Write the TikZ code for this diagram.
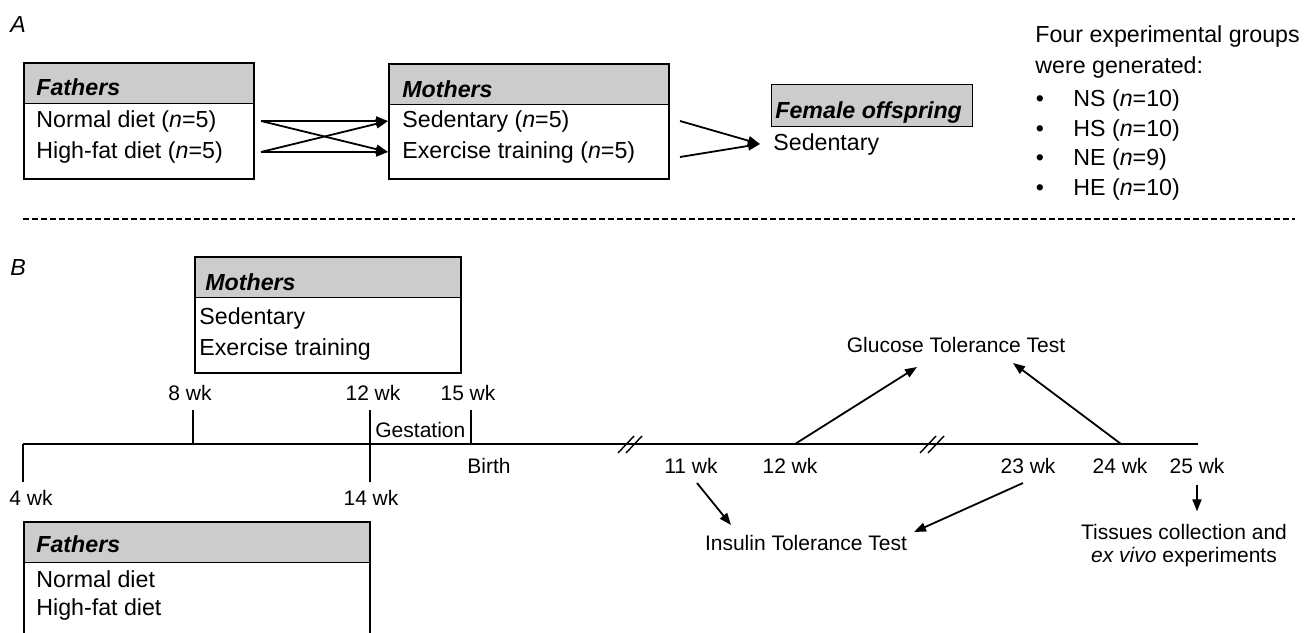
\documentclass[tikz,border=0pt]{standalone}
\usepackage{fontspec}
\setmainfont{Liberation Sans}
\usetikzlibrary{arrows.meta}

\newcommand{\bigtxt}{\fontsize{11.6}{13}\selectfont}
\newcommand{\smtxt}{\fontsize{10.5}{12}\selectfont}

\begin{document}
\begin{tikzpicture}[x=0.5pt,y=-0.5pt]
\tikzstyle{every node}+=[inner sep=0pt, font=\bigtxt]
\tikzstyle{bx}=[draw, line width=1pt, anchor=north west]
\tikzstyle{hd}=[draw, line width=0.6pt, fill=black!20, anchor=north west, minimum height=20.5pt]
\tikzstyle{arr}=[line width=0.9pt, -{Triangle[length=6pt,width=4.5pt]}]
\tikzstyle{tline}=[line width=0.9pt]
\tikzstyle{tlab}=[anchor=base, font=\smtxt]
\clip (0,0) rectangle (1312,632);

% A
\node[anchor=base west] (lblA) at (10,32) {\textit{A}};
\node[hd, minimum width=115pt] (fathAhd) at (23,62) {};
\node[bx, minimum width=115pt, minimum height=58pt] (fathA) at (23,62) {};
\node[anchor=base west] (fathAt) at (36,95) {\textbf{\textit{Fathers}}};
\node[anchor=base west] (fnormA) at (36,127) {Normal diet (\textit{n}=5)};
\node[anchor=base west] (fhighA) at (36,158) {High-fat diet (\textit{n}=5)};

\node[hd, minimum width=140pt] (mothAhd) at (388,63) {};
\node[bx, minimum width=140pt, minimum height=57.5pt] (mothA) at (388,63) {};
\node[anchor=base west] (mothAt) at (402,97) {\textbf{\textit{Mothers}}};
\node[anchor=base west] (msedA) at (402,127) {Sedentary (\textit{n}=5)};
\node[anchor=base west] (mexA) at (402,158) {Exercise training (\textit{n}=5)};

\node[hd, minimum width=100.5pt, minimum height=21pt] (offhd) at (771,84) {};
\node[anchor=base west] (offt) at (775,118) {\textbf{\textit{Female offspring}}};
\node[anchor=base west] (osed) at (773,150) {Sedentary};

\draw[arr] ([xshift=3pt]fathA.east |- fnormA) -- (mothA.west |- msedA);
\draw[arr] ([xshift=3pt]fathA.east |- fnormA) -- (mothA.west |- mexA);
\draw[arr] ([xshift=3pt]fathA.east |- fhighA) -- (mothA.west |- msedA);
\draw[arr] ([xshift=3pt]fathA.east |- fhighA) -- (mothA.west |- mexA);
\draw[arr] ([xshift=5pt]mothA.east |- msedA) -- ([xshift=-6.5pt]osed.west);
\draw[arr] ([xshift=5pt,yshift=-2.5pt]mothA.east |- mexA) -- ([xshift=-6.5pt]osed.west);

% groups
\node[anchor=base west] (grp1) at (1035,42) {Four experimental groups};
\node[anchor=base west] (grp2) at (1035,73) {were generated:};
\foreach \nm/\yy/\tx in {ns/106/NS (\textit{n}=10), hs/136/HS (\textit{n}=10),
    ne/165/NE (\textit{n}=9), he/195/HE (\textit{n}=10)} {
  \node[anchor=base] (b\nm) at (1040,\yy) {\textbullet};
  \node[anchor=base west] (\nm) at (1073,\yy) {\tx};
}

\coordinate (sepL) at (23,219);
\coordinate (sepR) at (1295,219);
\draw[line width=0.7pt, dash pattern=on 3pt off 1.5pt] (sepL) -- (sepR);

% B
\node[anchor=base west] (lblB) at (10,275) {\textit{B}};
\node[hd, minimum width=133pt] (mothBhd) at (194,256) {};
\node[bx, minimum width=133pt, minimum height=58pt] (mothB) at (194,256) {};
\node[anchor=base west] (mothBt) at (205,290) {\textbf{\textit{Mothers}}};
\node[anchor=base west] (msedB) at (199,324) {Sedentary};
\node[anchor=base west] (mexB) at (199,355) {Exercise training};

\coordinate (t4) at (23,444);
\coordinate (tend) at (1198,444);
\draw[tline] (t4) -- (tend);
\foreach \xx/\ya/\yb in {23/444/482, 193/410/444, 370/410/482, 471/410/444}
  \draw[tline] (\xx,\ya) -- (\xx,\yb);
\foreach \xx in {618,920} {
  \draw[line width=0.7pt] (\xx,453) -- ++(16,-17);
  \draw[line width=0.7pt] (\xx+8,453) -- ++(16,-17);
}

\foreach \nm/\xx/\yy/\tx in {w8/190/400/8 wk, w12/373/400/12 wk, w15/468/400/15 wk,
    w4/31/505/4 wk, w14/371/505/14 wk, w11/691/473/11 wk, w12b/790/473/12 wk,
    w23/1028/473/23 wk, w24/1120/473/24 wk, w25/1197/473/25 wk}
  \node[tlab] (\nm) at (\xx,\yy) {\tx};
\node[tlab, anchor=base west] (gest) at (375,437) {Gestation};
\node[tlab, anchor=base west] (birth) at (467,473) {Birth};

\coordinate (g12) at (795,444);
\coordinate (g24) at (1121,444);
\node[tlab] (gtt) at (956,352) {Glucose Tolerance Test};
\draw[arr] (g12) -- ([shift={(-39,15)}]gtt.base);
\draw[arr] (g24) -- ([shift={(57,11)}]gtt.base);

\node[tlab] (itt) at (806,550) {Insulin Tolerance Test};
\draw[arr] ([shift={(6,10)}]w11.base) -- ([shift={(-75,-25)}]itt.base);
\draw[arr] ([shift={(-5,10)}]w23.base) -- ([shift={(108,-18)}]itt.base);

\node[tlab] (tis1) at (1184,539) {Tissues collection and};
\node[tlab] (tis2) at (1184,562) {\textit{ex vivo} experiments};
\draw[arr] ([shift={(0,12)}]w25.base) -- ([shift={(13,-12)}]tis1.north);

\node[hd, minimum width=173pt] (fathBhd) at (23,521) {};
\node[bx, minimum width=173pt, minimum height=70pt] (fathB) at (23,521) {};
\node[anchor=base west] (fathBt) at (36,552) {\textbf{\textit{Fathers}}};
\node[anchor=base west] (fnormB) at (36,587) {Normal diet};
\node[anchor=base west] (fhighB) at (36,615) {High-fat diet};
\end{tikzpicture}
\end{document}
